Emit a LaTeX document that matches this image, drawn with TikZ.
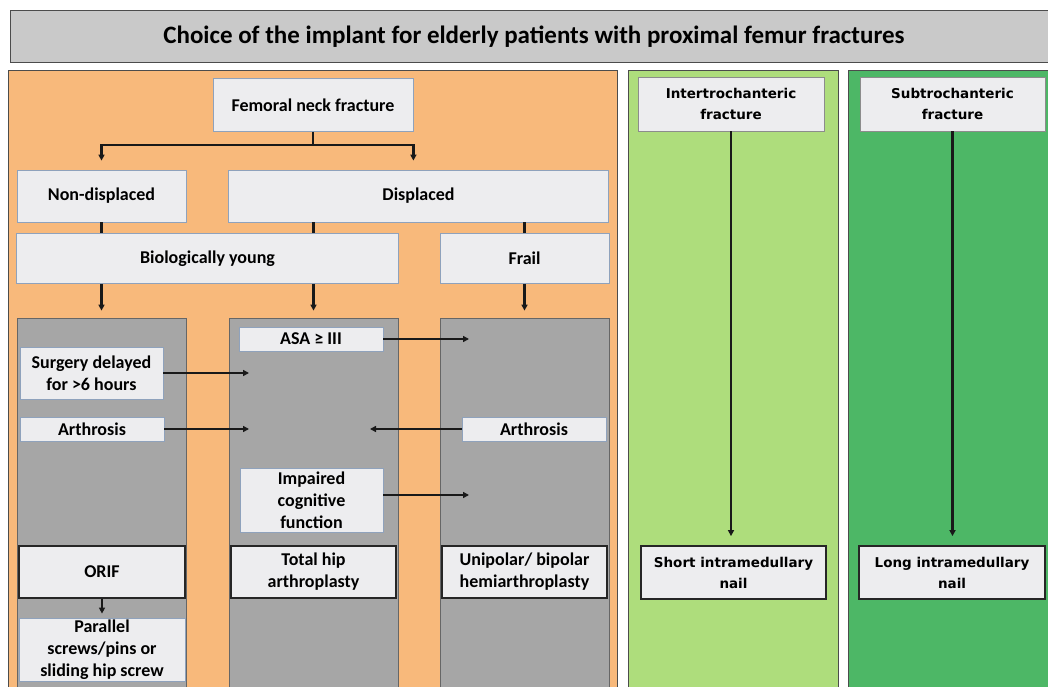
\documentclass[tikz,border=0pt]{standalone}
\usepackage{fontspec}
\setmainfont{Carlito}
\newfontfamily\wideface{DejaVu Sans}
\usetikzlibrary{arrows.meta, positioning, calc}
\definecolor{corange}{HTML}{F8B97B}
\definecolor{clgreen}{HTML}{AEDD7C}
\definecolor{cdgreen}{HTML}{4DB766}
\definecolor{cgrey}{HTML}{A6A6A6}
\definecolor{ctitle}{HTML}{C9C9C9}
\definecolor{cbox}{HTML}{EDEDEF}
\definecolor{cframe}{HTML}{8FA2BC}
\tikzset{
  panel/.style={draw=black!70, fill=#1, line width=0.8pt},
  column/.style={draw=black!60, fill=cgrey, line width=0.8pt, inner sep=0pt},
  box/.style={draw=cframe, fill=cbox, line width=0.8pt, align=center, inner sep=0pt,
    font=\fontsize{18}{22}\selectfont\bfseries},
  result/.style={box, draw=black!85, line width=1.8pt},
  greenbox/.style={box, draw=black!45, font=\wideface\fontsize{13.5}{21}\selectfont\bfseries},
  title/.style={font=\fontsize{25}{28}\selectfont\bfseries},
  arrow/.style={-{Triangle[length=6pt, width=6pt]}, line width=2.2pt, draw=black!90},
  link/.style={line width=2.2pt, draw=black!90},
}
\begin{document}
\begin{tikzpicture}[x=1pt, y=-1pt]
  \useasboundingbox (0,0) rectangle (1048,687);
  % background panels
  \draw[panel=ctitle] (10,10) rectangle (1060,62);
  \draw[panel=corange] (8,70) rectangle (617,700);
  \draw[panel=clgreen] (628,70) rectangle (838,700);
  \draw[panel=cdgreen] (848,70) rectangle (1060,700);
  \node[title] (ttl) at (534,37) {Choice of the implant for elderly patients with proximal femur fractures};
  % femoral neck
  \node[box, minimum width=200, minimum height=53] (neck) at (313,105) {Femoral neck fracture};
  \node[box, minimum width=169, minimum height=52] (nondisp) at (101.5,196) {Non-displaced};
  \node[box, minimum width=380, minimum height=52] (disp) at (418.5,196) {Displaced};
  \node[box, minimum width=382, minimum height=50] (young) at (207.5,258.5) {Biologically young};
  \node[box, minimum width=169, minimum height=50] (frail) at (524.5,258.5) {Frail};
  \node[column, minimum width=169, minimum height=380] (col1) at (101.5,508) {};
  \node[column, minimum width=169, minimum height=380] (col2) at (313.5,508) {};
  \node[column, minimum width=169, minimum height=380] (col3) at (524.5,508) {};
  \draw[arrow, shorten >=9pt] (neck.south) -- ++(0,13) -| (nondisp.north);
  \draw[arrow, shorten >=9pt] (neck.south) -- ++(0,13) -| (disp.north -| neck.east);
  \draw[link] (nondisp.south) -- (nondisp.south |- young.north);
  \draw[link] (disp.south -| col2.north) -- (young.north -| col2.north);
  \draw[link] (frail.north) -- (frail.north |- disp.south);
  \foreach \c in {col1, col2} \draw[arrow, shorten >=7pt] (young.south -| \c.north) -- (\c.north);
  \draw[arrow, shorten >=7pt] (frail.south) -- (col3.north);
  % criteria
  \node[box, minimum width=144, minimum height=24] (asa) at (311,339) {ASA ≥ III};
  \node[box, minimum width=143, minimum height=52] (delay) at (91.5,373) {Surgery delayed\\for >6 hours};
  \node[box, minimum width=144, minimum height=24] (arthl) at (92,429) {Arthrosis};
  \node[box, minimum width=144, minimum height=24] (arthr) at (534,429) {Arthrosis};
  \node[box, minimum width=143, minimum height=64] (cogn) at (311.5,500) {Impaired\\cognitive\\function};
  \coordinate (asaend) at (469,339);
  \coordinate (delayend) at (249,373);
  \coordinate (arthlend) at (249,429);
  \coordinate (arthrend) at (370,429);
  \coordinate (cognend) at (469,495);
  \draw[arrow, line width=1.6pt] (asa.east) -- (asaend);
  \draw[arrow, line width=1.6pt] (delay.east) -- (delayend);
  \draw[arrow, line width=1.6pt] (arthl.east) -- (arthlend);
  \draw[arrow, line width=1.6pt] (arthr.west) -- (arthrend);
  \draw[arrow, line width=1.6pt] (cogn.east |- cognend) -- (cognend);
  % implants
  \node[result, minimum width=166, minimum height=52] (orif) at (102,572) {ORIF};
  \node[result, minimum width=165, minimum height=52] (tha) at (313.5,572) {Total hip\\arthroplasty};
  \node[result, minimum width=165, minimum height=52] (hemi) at (524.5,572) {Unipolar/ bipolar\\hemiarthroplasty};
  \node[box, minimum width=166, minimum height=63] (screws) at (102,649.5) {Parallel\\screws/pins or\\sliding hip screw};
  \draw[arrow, shorten >=4pt] (orif.south) -- (screws.north);
  % trochanteric
  \node[greenbox, minimum width=186, minimum height=54] (inter) at (731,104) {Intertrochanteric\\fracture};
  \node[result, font=\wideface\fontsize{13.5}{21}\selectfont\bfseries, minimum width=185, minimum height=53] (shortnail) at (733.5,572.5) {Short intramedullary\\nail};
  \node[greenbox, minimum width=185, minimum height=54] (sub) at (952.5,104) {Subtrochanteric\\fracture};
  \node[result, font=\wideface\fontsize{13.5}{21}\selectfont\bfseries, minimum width=186, minimum height=53] (longnail) at (952,572.5) {Long intramedullary\\nail};
  \draw[arrow, line width=2.6pt, shorten >=9pt] (inter.south) -- (inter.south |- shortnail.north);
  \draw[arrow, line width=2.6pt, shorten >=9pt] (sub.south) -- (sub.south |- longnail.north);
\end{tikzpicture}
\end{document}
